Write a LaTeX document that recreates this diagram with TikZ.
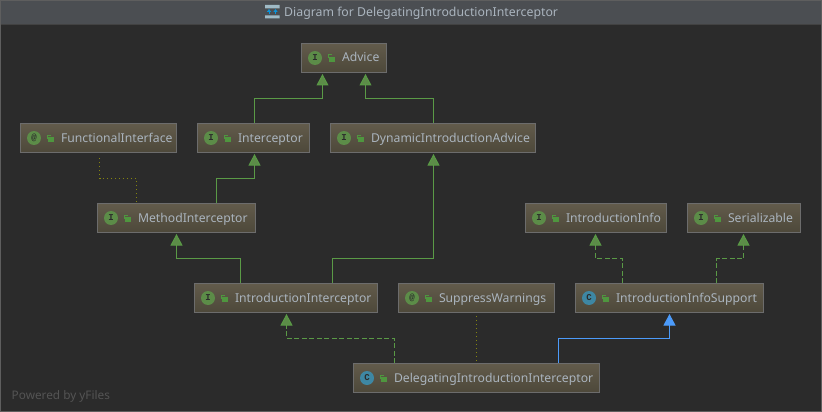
\documentclass[tikz,border=0pt]{standalone}
\usepackage{fontspec}
\setmainfont{Noto Sans}
\newfontfamily\iconfont{Liberation Mono}
\usetikzlibrary{arrows.meta}
\definecolor{canvas}{HTML}{2B2B2B}
\definecolor{titlebar}{HTML}{4B4E52}
\definecolor{frameline}{HTML}{5E5E5E}
\definecolor{boxtop}{HTML}{625B4B}
\definecolor{boxbottom}{HTML}{4D483A}
\definecolor{boxline}{HTML}{6C6C6C}
\definecolor{labeltext}{HTML}{AAB4BE}
\definecolor{ifgreen}{HTML}{5A9A46}
\definecolor{ballgreen}{HTML}{5C8C48}
\definecolor{classblue}{HTML}{3E87A3}
\definecolor{lockgreen}{HTML}{4F963F}
\definecolor{extendblue}{HTML}{4C9BFA}
\definecolor{noteolive}{HTML}{858510}
\tikzset{
  classbox/.style={anchor=north west,draw=boxline,line width=1pt,top color=boxtop,bottom color=boxbottom,
    text=labeltext,font=\fontsize{12.2}{14}\selectfont,text width=#1-1pt,inner xsep=0pt,align=left,
    minimum height=29pt,text height=9.5pt,text depth=1.5pt,execute at begin node=\hspace*{40.5pt}},
  kindball/.style={circle,inner sep=0pt,minimum size=14pt,text=canvas,font=\iconfont\bfseries\fontsize{9}{9}\selectfont},
  extends/.style={draw=ifgreen,line width=1pt,-{Triangle[length=11.5pt,width=12pt,fill=ballgreen]}},
  implements/.style={extends,dash pattern=on 5pt off 2.5pt},
  superclass/.style={draw=extendblue,line width=1pt,-{Triangle[length=11.5pt,width=12pt,fill=extendblue]}},
  annotated/.style={draw=noteolive,line width=1pt,dash pattern=on 1pt off 3pt}
}
\newcommand{\kindicons}[3]{
  \node[kindball,fill=#3] (#1-kind) at ([xshift=14pt]#1.west) {#2};
  \fill[lockgreen] ([xshift=28pt,yshift=-3.9pt]#1.west) rectangle ++(6,-4.6);
  \draw[lockgreen,line width=1pt] ([xshift=27pt,yshift=-.5pt]#1.west) |- ++(3.5,-3.5);
}
\begin{document}
\begin{tikzpicture}[x=1pt,y=-1pt]
  \useasboundingbox (0,0) rectangle (822,412);
  \fill[canvas] (0,0) rectangle (822,412);
  \fill[titlebar] (0,0) rectangle (822,24.5);
  \draw[frameline,line width=1pt] (.5,.5) rectangle (821.5,411.5);
  \draw[frameline!70!black,line width=.8pt] (1,24.5) -- (821,24.5);
  % title icon
  \fill[gray!70!cyan!70] (265,5) rectangle (279.5,8.5) (265,15.5) rectangle (279.5,18.5);
  \draw[cyan!80!blue,line width=1pt,-{Triangle[length=3pt,width=4pt]}] (269,14.5) -- (269,9);
  \draw[cyan!80!blue,line width=1pt,-{Triangle[length=3pt,width=4pt]}] (275.5,14.5) -- (275.5,9);
  \node[anchor=west,inner sep=0pt,text=labeltext,font=\fontsize{12.3}{14}\selectfont] (title) at (284,13.5) {Diagram for DelegatingIntroductionInterceptor};

  % boxes
  \node[classbox=86pt] (advice) at (301,43) {Advice};
  \node[classbox=157pt] (functional) at (20,123) {FunctionalInterface};
  \node[classbox=113pt] (interceptor) at (197,123) {Interceptor};
  \node[classbox=206pt] (dynamic) at (330,123) {DynamicIntroductionAdvice};
  \node[classbox=159pt] (method) at (97,203) {MethodInterceptor};
  \node[classbox=142pt] (info) at (525,203) {IntroductionInfo};
  \node[classbox=114pt] (serial) at (687,203) {Serializable};
  \node[classbox=184pt] (intro) at (194,283) {IntroductionInterceptor};
  \node[classbox=157pt] (suppress) at (398,283) {SuppressWarnings};
  \node[classbox=189pt] (support) at (575,283) {IntroductionInfoSupport};
  \node[classbox=247pt] (delegating) at (353,363) {DelegatingIntroductionInterceptor};

  \kindicons{advice}{I}{ballgreen}
  \kindicons{functional}{@}{ballgreen}
  \kindicons{interceptor}{I}{ballgreen}
  \kindicons{dynamic}{I}{ballgreen}
  \kindicons{method}{I}{ballgreen}
  \kindicons{info}{I}{ballgreen}
  \kindicons{serial}{I}{ballgreen}
  \kindicons{intro}{I}{ballgreen}
  \kindicons{suppress}{@}{ballgreen}
  \kindicons{support}{C}{classblue}
  \kindicons{delegating}{C}{classblue}

  % connectors
  \draw[extends] ([xshift=1pt]interceptor.north) -- ++(0,-24.5) -| ([xshift=-21.5pt,yshift=-1pt]advice.south);
  \draw[extends] ([xshift=.5pt]dynamic.north) -- ++(0,-24.5) -| ([xshift=21.5pt,yshift=-1pt]advice.south);
  \draw[extends] ([xshift=40pt]method.north) -- ++(0,-24.5) -| ([xshift=1pt,yshift=-1pt]interceptor.south);
  \draw[annotated] ([xshift=-40pt,yshift=1pt]method.north) -- ++(0,-23.5) -| ([xshift=1pt,yshift=-4pt]functional.south);
  \draw[extends] ([xshift=-45.5pt]intro.north) -- ++(0,-24.5) -| ([yshift=-1pt]method.south);
  \draw[extends] ([xshift=46.5pt]intro.north) -- ++(0,-24.5) -| ([xshift=.5pt,yshift=-1pt]dynamic.south);
  \draw[implements] ([xshift=-47pt]support.north) -- ++(0,-24.5) -| ([xshift=-.5pt,yshift=-1pt]info.south);
  \draw[implements] ([xshift=47pt]support.north) -- ++(0,-24.5) -| ([xshift=-.5pt,yshift=-1pt]serial.south);
  \draw[implements] ([xshift=-82pt]delegating.north) -- ++(0,-24.5) -| ([xshift=.5pt,yshift=-1pt]intro.south);
  \draw[superclass] ([xshift=82pt]delegating.north) -- ++(0,-24.5) -| ([yshift=-1pt]support.south);
  \draw[annotated] ([yshift=2pt]delegating.north) -- ([yshift=-3pt]suppress.south);

  \node[anchor=west,inner sep=0pt,text=white!33!black,font=\fontsize{11.8}{14}\selectfont] (powered) at (11.5,396) {Powered by yFiles};
\end{tikzpicture}
\end{document}
